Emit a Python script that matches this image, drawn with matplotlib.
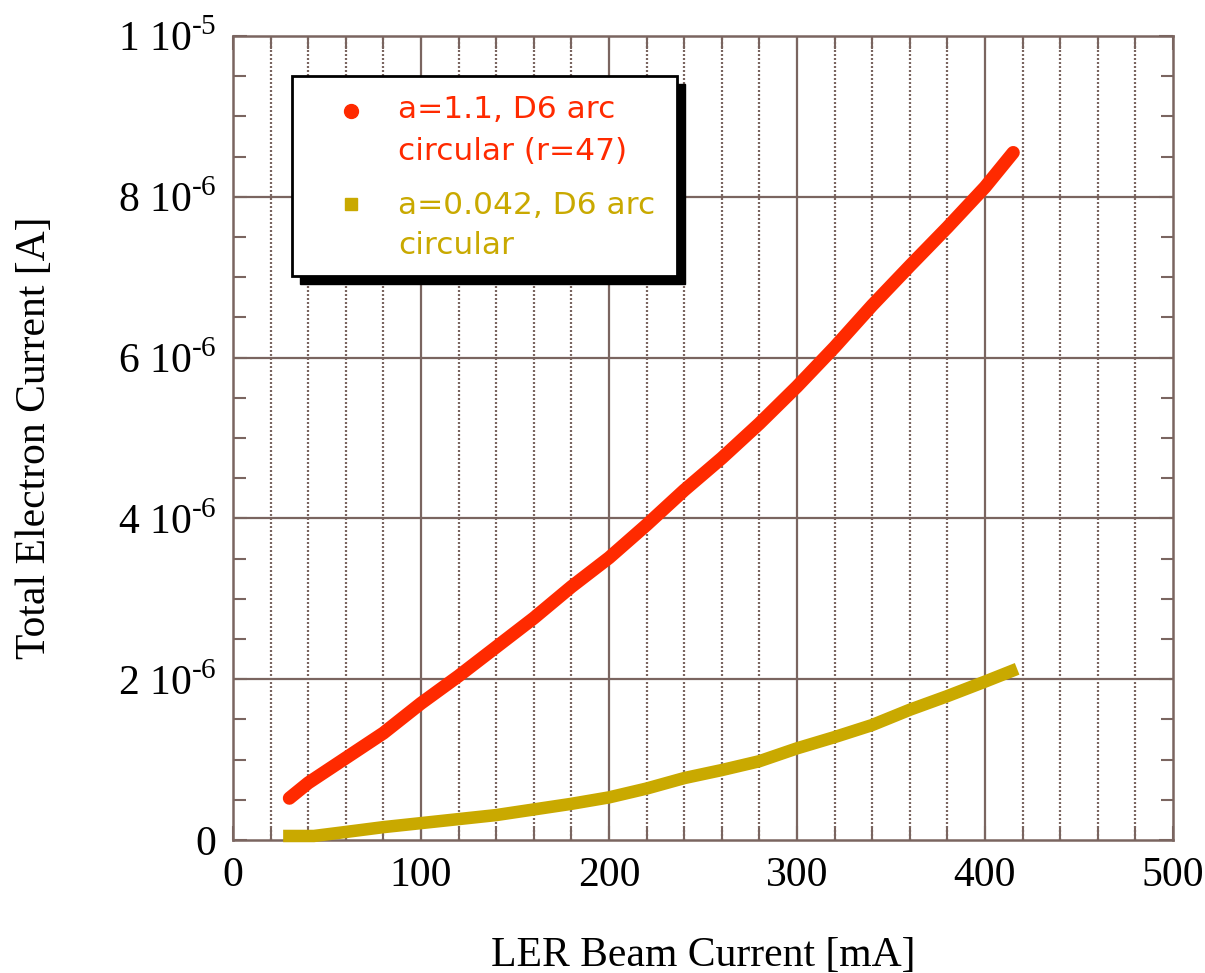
import matplotlib
matplotlib.use("Agg")
import matplotlib.pyplot as plt
from matplotlib.patches import Rectangle
from matplotlib.lines import Line2D
from matplotlib.ticker import MultipleLocator, FixedLocator

plt.rcParams["mathtext.fontset"] = "custom"
plt.rcParams["mathtext.rm"] = "Liberation Serif"

# LER beam current [mA] and total electron current [A]
beam_red = [30, 40, 60, 80, 100, 120, 140, 160, 180, 200, 220, 240, 260, 280,
            300, 320, 340, 360, 380, 400, 415]
elec_red = [0.52e-6, 0.71e-6, 1.02e-6, 1.33e-6, 1.70e-6, 2.04e-6, 2.40e-6,
            2.76e-6, 3.15e-6, 3.51e-6, 3.92e-6, 4.35e-6, 4.75e-6, 5.18e-6,
            5.64e-6, 6.13e-6, 6.65e-6, 7.14e-6, 7.62e-6, 8.12e-6, 8.55e-6]

beam_yel = [30, 43, 60, 80, 100, 120, 140, 160, 180, 200, 220, 240, 260, 280,
            300, 320, 340, 360, 380, 400, 414]
elec_yel = [0.05e-6, 0.05e-6, 0.10e-6, 0.16e-6, 0.21e-6, 0.26e-6, 0.31e-6,
            0.38e-6, 0.45e-6, 0.53e-6, 0.64e-6, 0.77e-6, 0.87e-6, 0.98e-6,
            1.14e-6, 1.28e-6, 1.43e-6, 1.62e-6, 1.79e-6, 1.97e-6, 2.10e-6]

label_red = ["a=1.1, D6 arc", "circular (r=47)"]
label_yel = ["a=0.042, D6 arc", "circular"]

x_ticks = [0, 100, 200, 300, 400, 500]
y_ticks = [0, 2e-6, 4e-6, 6e-6, 8e-6, 1e-5]
y_tick_labels = ["0", r"2 10$^{\text{-6}}$", r"4 10$^{\text{-6}}$",
                 r"6 10$^{\text{-6}}$", r"8 10$^{\text{-6}}$",
                 r"1 10$^{\text{-5}}$"]

RED = "#ff2a00"
YEL = "#c9a900"
FRAME = "#7a6560"
SERIF = "Liberation Serif"

W, H = 1205, 973
fig = plt.figure(figsize=(W / 100, H / 100), dpi=100)
ax = fig.add_axes([233 / W, 1 - 840 / H, (1173 - 233) / W, (840 - 36) / H])
ax.set_xlim(0, 500)
ax.set_ylim(0, 1e-5)

# grid: solid at major values, dotted verticals every 20 mA
for x in x_ticks[1:-1]:
    ax.axvline(x, color=FRAME, lw=1.6, zorder=1)
for y in y_ticks[1:-1]:
    ax.axhline(y, color=FRAME, lw=1.6, zorder=1)
for x in range(20, 500, 20):
    if x % 100:
        ax.axvline(x, color=FRAME, lw=1.6, ls=(0, (0.9, 0.9)), zorder=1)

for s in ax.spines.values():
    s.set_color(FRAME)
    s.set_linewidth(1.8)

ax.xaxis.set_major_locator(FixedLocator(x_ticks))
ax.xaxis.set_minor_locator(MultipleLocator(20))
ax.yaxis.set_major_locator(FixedLocator(y_ticks))
ax.yaxis.set_minor_locator(MultipleLocator(0.5e-6))
ax.set_yticklabels(y_tick_labels)
ax.tick_params(which="both", direction="in", top=True, right=True,
               color=FRAME, width=1.5)
ax.tick_params(which="major", length=10, labelsize=30, pad=12)
ax.tick_params(which="minor", length=9)
for lab in ax.get_xticklabels() + ax.get_yticklabels():
    lab.set_fontfamily(SERIF)

ax.set_xlabel("LER Beam Current [mA]", fontsize=30, family=SERIF, labelpad=30)
ax.set_ylabel("Total Electron Current [A]", fontsize=30, family=SERIF, labelpad=46)

# data series drawn as dense thick traces
ax.plot(beam_yel, elec_yel, color=YEL, lw=9, solid_capstyle="projecting",
        solid_joinstyle="miter", zorder=3, clip_on=False)
ax.plot(beam_red, elec_red, color=RED, lw=9.5, solid_capstyle="round",
        solid_joinstyle="round", zorder=4, clip_on=False)

# legend box with drop shadow (figure pixel coordinates)
def px(x, y):
    return x / W, 1 - y / H

bx0, by0, bx1, by1 = 292, 76, 677, 276
shadow = Rectangle(px(bx0 + 8, by1 + 8), (bx1 - bx0) / W, (by1 - by0) / H,
                   transform=fig.transFigure, facecolor="black",
                   edgecolor="black", zorder=10)
box = Rectangle(px(bx0, by1), (bx1 - bx0) / W, (by1 - by0) / H,
                transform=fig.transFigure, facecolor="white",
                edgecolor="black", lw=2, zorder=11)
fig.patches.extend([shadow, box])

mx, my = px(351, 111)
fig.lines.append(Line2D([mx], [my], marker="o", ms=10, color=RED, mec=RED,
                        transform=fig.transFigure, zorder=12))
mx, my = px(351, 204)
fig.lines.append(Line2D([mx], [my], marker="s", ms=9, color=YEL, mec=YEL,
                        transform=fig.transFigure, zorder=12))

text_kw = dict(fontsize=22.5, family="DejaVu Sans", va="center", ha="left",
               zorder=13)
for (y, txt, c) in [(110, label_red[0], RED), (151, label_red[1], RED),
                    (205, label_yel[0], YEL), (246, label_yel[1], YEL)]:
    tx, ty = px(398, y)
    fig.text(tx, ty, txt, color=c, **text_kw)

fig.savefig("out.png", dpi=100)
